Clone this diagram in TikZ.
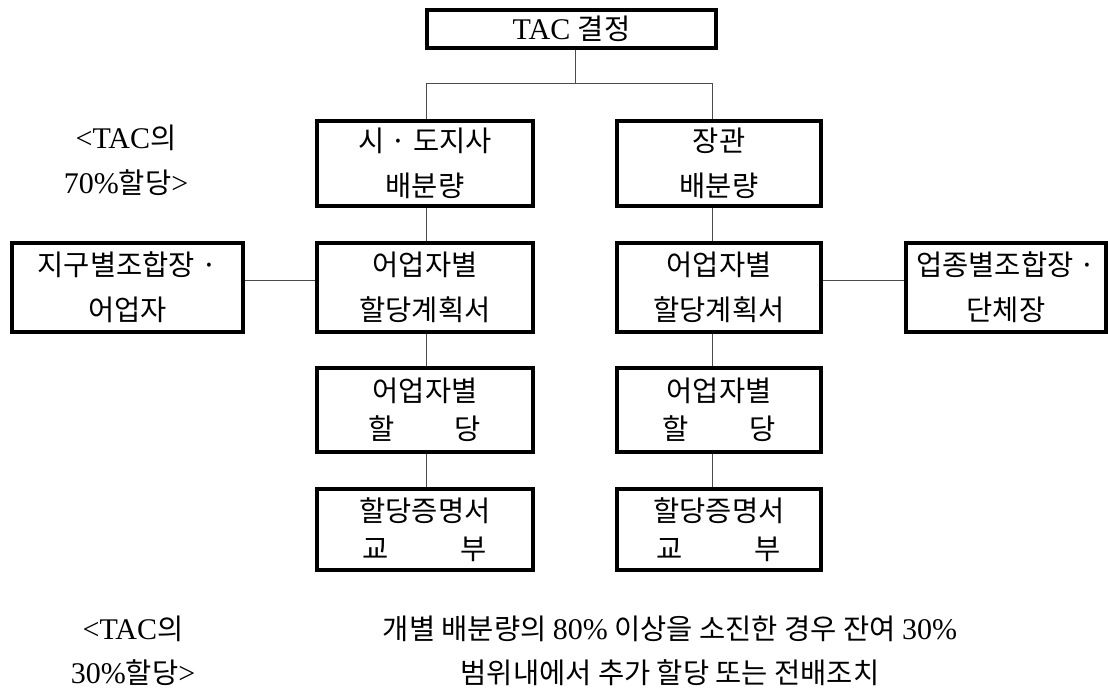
\documentclass[tikz,border=0pt]{standalone}
\usepackage{fontspec}
\setmainfont{Liberation Serif}
\newfontfamily\krfont[Scale=0.95]{Noto Sans CJK KR}
\newcommand\K[1]{{\krfont #1}}
\begin{document}
\begin{tikzpicture}[x=1pt,y=-1pt,
  every node/.style={font=\fontsize{30}{45}\selectfont, inner sep=0pt, align=center},
  box/.style={draw, line width=3.2pt},
  tight/.style={font=\fontsize{30}{38}\selectfont},
  conn/.style={line width=1pt, black!70}]
\useasboundingbox (0,0) rectangle (1108,690);
% boxes
\node[box, minimum width=289pt, minimum height=38pt] (TAC) at (571.5,29) {TAC \K{결정}};
\node[box, minimum width=216pt, minimum height=85pt] (L1) at (425,163.5) {\K{시 · 도지사}\\\K{배분량}};
\node[box, minimum width=216pt, minimum height=89pt] (L2) at (425,287.5) {\K{어업자별}\\\K{할당계획서}};
\node[box, tight, minimum width=216pt, minimum height=84pt] (L3) at (425,410) {\K{어업자별}\\\K{할\hspace{60pt}당}};
\node[box, tight, minimum width=216pt, minimum height=81pt] (L4) at (425,529.5) {\K{할당증명서}\\\K{교\hspace{72pt}부}};
\node[box, minimum width=204pt, minimum height=85pt] (R1) at (719,163.5) {\K{장관}\\\K{배분량}};
\node[box, minimum width=204pt, minimum height=89pt] (R2) at (719,287.5) {\K{어업자별}\\\K{할당계획서}};
\node[box, tight, minimum width=204pt, minimum height=84pt] (R3) at (719,410) {\K{어업자별}\\\K{할\hspace{60pt}당}};
\node[box, tight, minimum width=204pt, minimum height=81pt] (R4) at (719,529.5) {\K{할당증명서}\\\K{교\hspace{72pt}부}};
\node[box, minimum width=231pt, minimum height=89pt] (SL) at (127.5,287.5) {\K{지구별조합장 ·}\\\K{어업자}};
\node[box, minimum width=200pt, minimum height=89pt] (SR) at (1006,287.5) {\K{업종별조합장 ·}\\\K{단체장}};
% labels
\node (lab1) at (126,160) {<TAC\K{의}\\70\%\K{할당}>};
\node[font=\fontsize{30}{44}\selectfont] (lab2) at (133,651) {<TAC\K{의}\\30\%\K{할당}>};
\node[font=\fontsize{30}{44}\selectfont] (note) at (670,651) {\K{개별 배분량의 }80\%\K{ 이상을 소진한 경우 잔여 }30\%\\\K{범위내에서 추가 할당 또는 전배조치}};
% connectors
\coordinate (j) at (575,84);
\coordinate (lx) at (426,84);
\coordinate (rx) at (712,84);
\coordinate (hy) at (0,280);
\draw[conn] (TAC.south -| j) -- (j);
\draw[conn] (L1.north -| lx) -- (lx) -- (rx) -- (R1.north -| rx);
\draw[conn] (L1.south -| lx) -- (L2.north -| lx);
\draw[conn] (L2.south -| lx) -- (L3.north -| lx);
\draw[conn] (L3.south -| lx) -- (L4.north -| lx);
\draw[conn] (R1.south -| rx) -- (R2.north -| rx);
\draw[conn] (R2.south -| rx) -- (R3.north -| rx);
\draw[conn] (R3.south -| rx) -- (R4.north -| rx);
\draw[conn] (SL.east |- hy) -- (L2.west |- hy);
\draw[conn] (R2.east |- hy) -- (SR.west |- hy);
\end{tikzpicture}
\end{document}
